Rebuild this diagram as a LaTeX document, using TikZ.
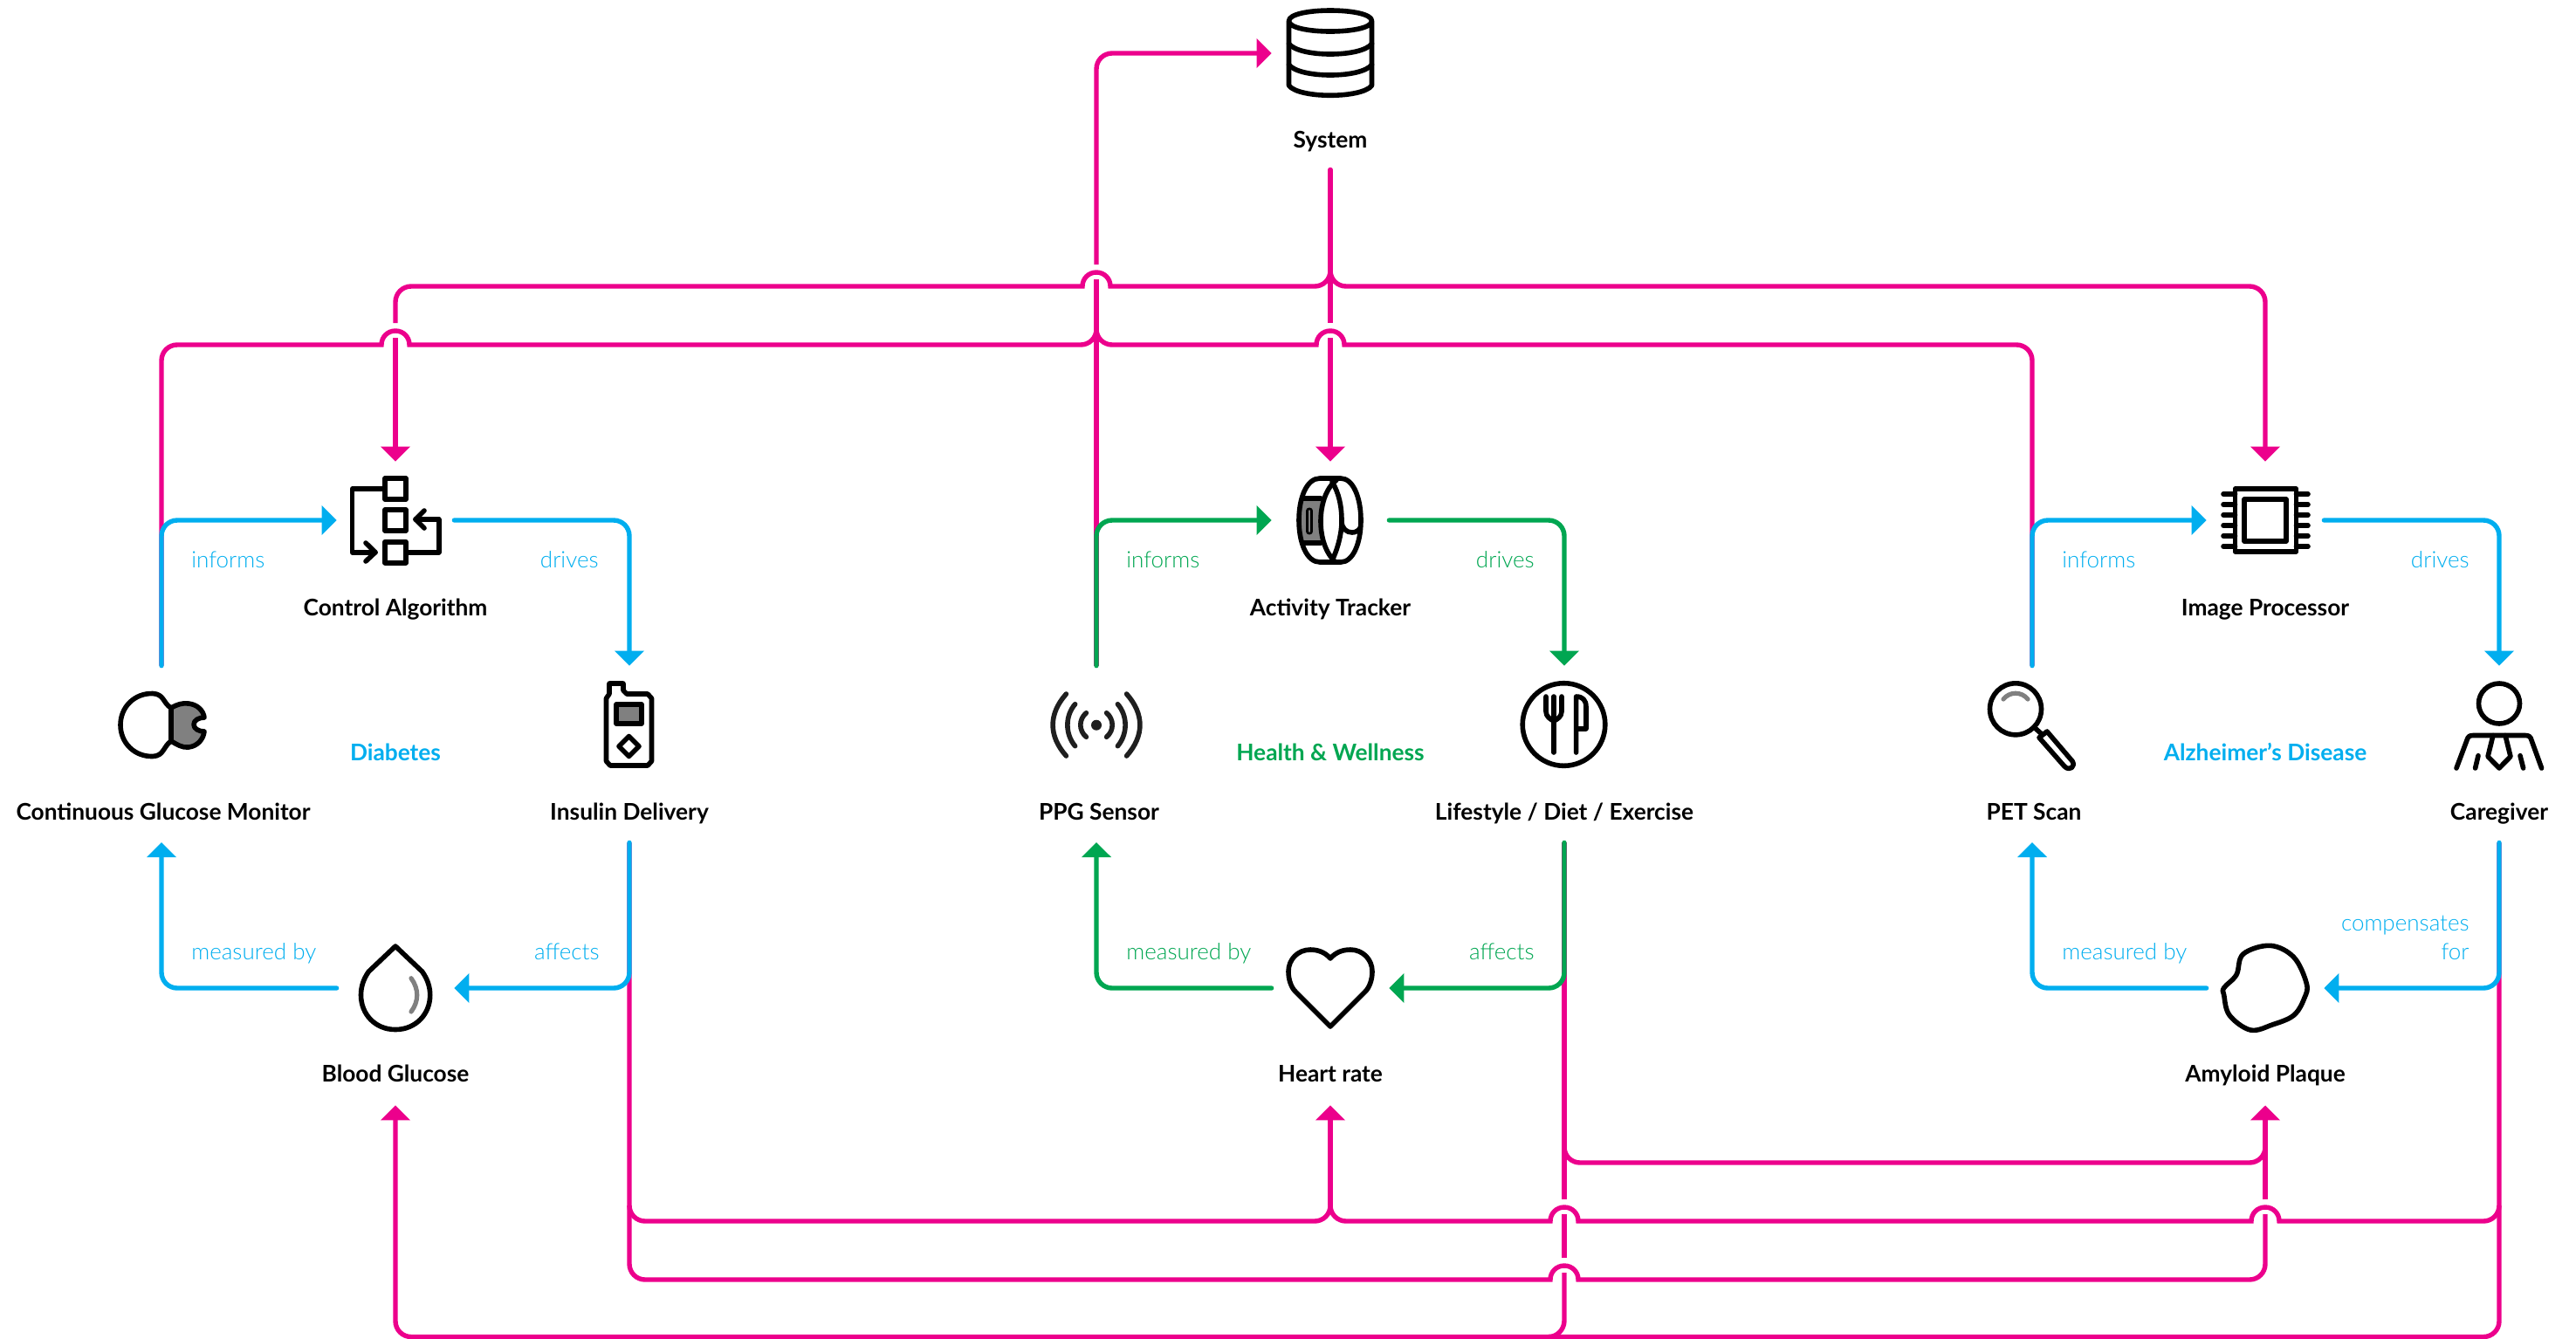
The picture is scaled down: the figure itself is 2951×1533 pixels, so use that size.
\documentclass[tikz,border=0pt]{standalone}
\usepackage{fontspec}
\setmainfont{Lato}
\newfontfamily\lightfont{Lato Light}
\usetikzlibrary{arrows.meta}
\definecolor{pk}{HTML}{EC008C}
\definecolor{bl}{HTML}{00AEEF}
\definecolor{gr}{HTML}{00A651}
\definecolor{gy}{HTML}{808080}
\newcommand\jumpR[2]{-- ({#1-16},#2) .. controls ({#1-16},{#2-9}) and ({#1-9},{#2-16}) .. (#1,{#2-16}) .. controls ({#1+9},{#2-16}) and ({#1+16},{#2-9}) .. ({#1+16},#2)}
\newcommand\jumpL[2]{-- ({#1+16},#2) .. controls ({#1+16},{#2-9}) and ({#1+9},{#2-16}) .. (#1,{#2-16}) .. controls ({#1-9},{#2-16}) and ({#1-16},{#2-9}) .. ({#1-16},#2)}
\tikzset{
 iconbox/.style={minimum size=67pt,inner sep=0pt,draw=none,fill=none},
 namelabel/.style={inner sep=0pt,text height=9pt,text depth=0pt,font=\fontsize{13.15}{16}\selectfont\bfseries},
 edgetext/.style={inner sep=0pt,font=\fontsize{13}{16}\selectfont\lightfont},
 grouptext/.style={inner sep=0pt,anchor=base,font=\fontsize{13.15}{16}\selectfont\bfseries},
 ico/.style={draw=black,line width=2.8pt,line cap=round,line join=round},
 ticon/.style={draw=black,line width=2.8pt,line cap=round,line join=round,fill=gy},
 gyline/.style={draw=gy,line width=2.6pt,line cap=round},
 tip/.style={-{Triangle[length=8.5pt,width=16.5pt]}},
 pkl/.style={draw=pk,line width=2.7pt},
 loopb/.style={draw=bl,line width=2.7pt,rounded corners=9pt,line cap=round},
 loopg/.style={draw=gr,line width=2.7pt,rounded corners=9pt,line cap=round},
}
\begin{document}
\begin{tikzpicture}[x=0.5pt,y=-0.5pt]
\useasboundingbox (0,0) rectangle (2951,1533);
% icon boxes
\node[iconbox] (sys) at (1524,61) {};
\node[iconbox] (ctrl) at (453,596) {};
\node[iconbox] (act) at (1524,596) {};
\node[iconbox] (img) at (2595,596) {};
\node[iconbox] (cgm) at (185,830) {};
\node[iconbox] (ins) at (721,830) {};
\node[iconbox] (ppg) at (1256,830) {};
\node[iconbox] (life) at (1792,830) {};
\node[iconbox] (pet) at (2328,830) {};
\node[iconbox] (care) at (2863,830) {};
\node[iconbox] (bg) at (453,1132) {};
\node[iconbox] (hr) at (1524,1132) {};
\node[iconbox] (amy) at (2595,1132) {};
% name labels
\node[namelabel,minimum height=34pt] (lsys) at (1524,160) {System};
\node[namelabel] (lctrl) at (453,696) {Control Algorithm};
\node[namelabel] (lact) at (1524,696) {Activity Tracker};
\node[namelabel] (limg) at (2595,696) {Image Processor};
\node[namelabel] (lcgm) at (187,930) {Continuous Glucose Monitor};
\node[namelabel,minimum height=35pt] (lins) at (721,930) {Insulin Delivery};
\node[namelabel] (lppg) at (1259,930) {PPG Sensor};
\node[namelabel,minimum height=35pt] (llife) at (1792,930) {Lifestyle / Diet / Exercise};
\node[namelabel] (lpet) at (2330,930) {PET Scan};
\node[namelabel,minimum height=35pt] (lcare) at (2863,930) {Caregiver};
\node[namelabel,minimum height=36pt] (lbg) at (453,1230) {Blood Glucose};
\node[namelabel,minimum height=36pt] (lhr) at (1524,1230) {Heart rate};
\node[namelabel,minimum height=36pt] (lamy) at (2595,1230) {Amyloid Plaque};
% group labels
\node[grouptext,text=bl] (gd) at (453,871.5) {Diabetes};
\node[grouptext,text=gr] (gh) at (1524,871.5) {Health \& Wellness};
\node[grouptext,text=bl] (ga) at (2595,871.5) {Alzheimer's Disease};
% edge labels
\node[edgetext,text=bl,anchor=base west] (e1) at (219,650) {informs};
\node[edgetext,text=bl,anchor=base east] (e2) at (686,650) {drives};
\node[edgetext,text=bl,anchor=base east] (e3) at (687,1099.5) {affects};
\node[edgetext,text=bl,anchor=base west] (e4) at (219,1099.5) {measured by};
\node[edgetext,text=gr,anchor=base west] (e5) at (1290,650) {informs};
\node[edgetext,text=gr,anchor=base east] (e6) at (1758,650) {drives};
\node[edgetext,text=gr,anchor=base east] (e7) at (1758,1099.5) {affects};
\node[edgetext,text=gr,anchor=base west] (e8) at (1290,1099.5) {measured by};
\node[edgetext,text=bl,anchor=base west] (e9) at (2362,650) {informs};
\node[edgetext,text=bl,anchor=base east] (e10) at (2829,650) {drives};
\node[edgetext,text=bl,anchor=base east] (e11) at (2829,1066.5) {compensates};
\node[edgetext,text=bl,anchor=base east] (e12) at (2829,1099.5) {for};
\node[edgetext,text=bl,anchor=base west] (e13) at (2362,1099.5) {measured by};
% free ends of the connectors, at the line jumps and junctions
\coordinate (cgmin) at (185,965);
\coordinate (ppgin) at (1256,965);
\coordinate (petin) at (2328,965);
\coordinate (sysgap) at (1524,370);
\coordinate (sysres) at (1524,387);
\coordinate (cagap) at (453,370);
\coordinate (cares) at (453,387);
\coordinate (ppggap) at (1256,320);
\coordinate (ppgres) at (1256,303);
\coordinate (jtop) at (1524,310);
\coordinate (jmid) at (1256,377);
\coordinate (jhr) at (1524,1381);
\coordinate (amygap) at (2595,1374);
\coordinate (amyres) at (2595,1391);
\coordinate (lifegapa) at (1792,1374);
\coordinate (liferesa) at (1792,1391);
\coordinate (lifegapb) at (1792,1441);
\coordinate (liferesb) at (1792,1458);
% magenta connectors
\draw[pkl,line cap=round] (lsys.south) -- (1524,340);
\draw[pkl] (1524,340) -- (sysgap);
\draw[pkl,tip] (sysres) -- (act.north);
\draw[pkl] (jtop) .. controls (1524,320) and (1516,328) .. (1506,328) \jumpL{1256}{328} -- (471,328) .. controls (461,328) and (453,336) .. (453,346) -- (cagap);
\draw[pkl,tip] (cares) -- (ctrl.north);
\draw[pkl,tip] (jtop) .. controls (1524,320) and (1532,328) .. (1542,328) -- (2577,328) .. controls (2587,328) and (2595,336) .. (2595,346) -- (img.north);
\draw[pkl] (jmid) .. controls (1256,387) and (1248,395) .. (1238,395) \jumpL{453}{395} -- (203,395) .. controls (193,395) and (185,403) .. (185,413) -- (cgm.north);
\draw[pkl] (jmid) .. controls (1256,387) and (1264,395) .. (1274,395) \jumpR{1524}{395} -- (2310,395) .. controls (2320,395) and (2328,403) .. (2328,413) -- (pet.north);
\draw[pkl] (ppg.north) -- (ppggap);
\draw[pkl,tip] (ppgres) -- (1256,79) .. controls (1256,69) and (1264,61) .. (1274,61) -- (sys.west);
\draw[pkl] (lins.south) -- (721,1448) .. controls (721,1458) and (729,1466) .. (739,1466) \jumpR{1792}{1466} -- (2577,1466) .. controls (2587,1466) and (2595,1458) .. (2595,1448) -- (amyres);
\draw[pkl] (721,1381) .. controls (721,1391) and (729,1399) .. (739,1399) -- (1506,1399) .. controls (1516,1399) and (1524,1391) .. (jhr);
\draw[pkl] (2863,1381) .. controls (2863,1391) and (2855,1399) .. (2845,1399) \jumpL{2595}{1399} \jumpL{1792}{1399} -- (1542,1399) .. controls (1532,1399) and (1524,1391) .. (jhr);
\draw[pkl,tip] (jhr) -- (lhr.south);
\draw[pkl,tip] (lcare.south) -- (2863,1513.5) .. controls (2863,1523.5) and (2855,1531.5) .. (2845,1531.5) -- (471,1531.5) .. controls (461,1531.5) and (453,1523.5) .. (453,1513.5) -- (lbg.south);
\draw[pkl] (llife.south) -- (lifegapa);
\draw[pkl] (liferesa) -- (lifegapb);
\draw[pkl] (liferesb) -- (1792,1513) .. controls (1792,1523) and (1784,1531.5) .. (1774,1531.5);
\draw[pkl] (1792,1314) .. controls (1792,1324) and (1800,1332) .. (1810,1332) -- (2577,1332) .. controls (2587,1332) and (2595,1324) .. (2595,1314);
\draw[pkl,tip] (amygap) -- (lamy.south);
% coloured loops
\draw[loopb,tip] (cgm.north) |- (ctrl.west);
\draw[loopb,tip] (ctrl.east) -| (ins.north);
\draw[loopb,tip] (lins.south) |- (bg.east);
\draw[loopb,tip] (bg.west) -| (cgmin);
\draw[loopg,tip] (ppg.north) |- (act.west);
\draw[loopg,tip] (act.east) -| (life.north);
\draw[loopg,tip] (llife.south) |- (hr.east);
\draw[loopg,tip] (hr.west) -| (ppgin);
\draw[loopb,tip] (pet.north) |- (img.west);
\draw[loopb,tip] (img.east) -| (care.north);
\draw[loopb,tip] (lcare.south) |- (amy.east);
\draw[loopb,tip] (amy.west) -| (petin);
% System icon
\draw[ico] (1476.5,24) .. controls (1476.5,8) and (1571.5,8) .. (1571.5,24) .. controls (1571.5,40) and (1476.5,40) .. (1476.5,24) -- (1476.5,98) .. controls (1488,113) and (1560,113) .. (1571.5,98) -- (1571.5,24);
\draw[ico] (1476.5,50) .. controls (1488,66) and (1560,66) .. (1571.5,50);
\draw[ico] (1476.5,74) .. controls (1488,90) and (1560,90) .. (1571.5,74);
% Control Algorithm icon
\draw[ico,line cap=butt] (441,548) rectangle (465,572);
\draw[ico,line cap=butt] (441,584) rectangle (465,608);
\draw[ico,line cap=butt] (441,620.7) rectangle (465,644.7);
\draw[ico] (441,560) -- (403.6,560) -- (403.6,632.7) -- (430,632.7);
\draw[ico] (419,622) -- (430,632.7) -- (419,643);
\draw[ico] (465,632.7) -- (502.7,632.7) -- (502.7,595) -- (476,595);
\draw[ico] (486,585) -- (476,595) -- (486,605);
% Insulin pump icon
\draw[ico] (694.5,872) -- (694.5,800) -- (698,795) -- (698,783) -- (714,783) -- (714,791) -- (718,795) -- (742,795) -- (746.5,800) -- (746.5,872) -- (742,877) -- (699,877) -- cycle;
\draw[ticon] (706,807) rectangle (735,829);
\draw[ico] (720.5,843.5) -- (732,855) -- (720.5,866.5) -- (709,855) -- cycle;
% CGM icon
\draw[ticon] (196,811) .. controls (203,807) and (209,805) .. (216,806) .. controls (226,807) and (233,814) .. (234,822) .. controls (228,822) and (222,825) .. (222,830) .. controls (222,835) and (228,838) .. (234,838) .. controls (233,847) and (226,855) .. (216,856) .. controls (209,857) and (203,853) .. (196,849) -- cycle;
\draw[ico] (196,811) .. controls (187,806) and (188,795) .. (175,794.5) .. controls (154,794) and (138,810) .. (138,830.5) .. controls (138,851) and (154,867) .. (175,866.5) .. controls (188,866) and (187,855) .. (196,849);
% Drop icon
\draw[ico] (453,1084) -- (422.4,1113) .. controls (416,1122) and (413.5,1131) .. (413.5,1140) .. controls (413.5,1162) and (430,1179.5) .. (453,1179.5) .. controls (476,1179.5) and (492.7,1162) .. (492.7,1140) .. controls (492.7,1131) and (490,1122) .. (483.6,1113) -- cycle;
\draw[gyline] (471,1120.7) .. controls (480,1133) and (480,1147) .. (471,1159);
% Activity tracker icon
\path[fill=gy] (1492,571) .. controls (1489,580) and (1488,590) .. (1488,596) .. controls (1488,604) and (1489,614) .. (1492,622) -- (1513,622) -- (1513,571) -- cycle;
\draw[ico] (1512,548) .. controls (1497,548) and (1488,570) .. (1488,596) .. controls (1488,622) and (1497,644) .. (1512,644) -- (1536,644) .. controls (1550,644) and (1559,622) .. (1559,596) .. controls (1559,570) and (1550,548) .. (1536,548) -- cycle;
\draw[ico] (1531,550) .. controls (1518,560) and (1513,580) .. (1513,597) .. controls (1513,615) and (1518,633) .. (1530,644);
\draw[ico] (1526,552) .. controls (1534,565) and (1537,580) .. (1537,597) .. controls (1537,612) and (1532,630) .. (1526,642);
\draw[ico] (1537,597) .. controls (1537,606) and (1543,610) .. (1549,610) .. controls (1553,610) and (1556,608) .. (1558,605);
\draw[ico] (1492,571) -- (1513,571);
\draw[ico] (1492,622) -- (1513,622);
\draw[draw=black,line width=1.3pt,rounded corners=1pt] (1497.5,583) rectangle (1502.5,611);
% PPG icon
\foreach \sg in {-1,1}{
 \draw[ico,draw=black!88] ({1256+\sg*34.6},795) .. controls ({1256+\sg*55},818) and ({1256+\sg*55},843) .. ({1256+\sg*34.6},866);
 \draw[ico,draw=black!88] ({1256+\sg*24.4},806.7) .. controls ({1256+\sg*36},820) and ({1256+\sg*36},841) .. ({1256+\sg*24.4},854.7);
 \draw[ico,draw=black!88] ({1256+\sg*11.6},816.7) .. controls ({1256+\sg*20.4},824) and ({1256+\sg*20.4},837) .. ({1256+\sg*11.6},844.3);
}
\fill[black!88] (1256,830.7) circle[radius=6];
% Lifestyle icon
\draw[ico] (1791.5,830) circle[radius=47.3];
\draw[ico] (1771,798) -- (1771,815) .. controls (1771,821) and (1776,824) .. (1780,826) .. controls (1784,824) and (1789,821) .. (1789,815) -- (1789,798);
\draw[ico] (1780,798) -- (1780,862);
\draw[ico] (1805.6,862) -- (1805.6,798) .. controls (1813,798) and (1817,802) .. (1817,810) -- (1817,835) -- (1805.6,835);
% Image processor icon
\draw[ico] (2560.5,560) rectangle (2630.5,632);
\draw[ico] (2571,572) rectangle (2619,620);
\foreach \py in {566,578,590,602,614,626}{
 \draw[ico] (2547,\py) -- (2560.5,\py);
 \draw[ico] (2630.5,\py) -- (2644,\py);
}
% PET scan icon
\draw[ico] (2309,812.3) circle[radius=29.5];
\draw[gyline] (2295,801) .. controls (2302,792) and (2316,792) .. (2323,801);
\draw[ico] (2330,833) -- (2339,841);
\draw[ico] (2336,845) -- (2345,838) -- (2374,872) .. controls (2378,878) and (2371,884) .. (2365,878) -- cycle;
% Caregiver icon
\draw[ico] (2863,806) ellipse[x radius=23.5,y radius=23];
\draw[ico] (2814,880) -- (2826,848) .. controls (2827,844) and (2829,842.5) .. (2833,842.5) -- (2893,842.5) .. controls (2897,842.5) and (2899,844) .. (2900,848) -- (2911.6,880);
\draw[ico] (2856,842.5) -- (2850,866.7) -- (2863,880) -- (2876,866.7) -- (2870,842.5);
\draw[ico] (2839,865.7) -- (2835.6,880);
\draw[ico] (2887,865.7) -- (2890.6,880);
% Amyloid icon
\draw[ico] plot[smooth cycle,tension=0.6] coordinates {(2600.8,1083.3) (2627.8,1096.7) (2642.3,1126.7) (2640,1143) (2627.8,1163) (2603,1174) (2578,1180) (2554,1163) (2547.7,1140) (2547.7,1131.7) (2562,1116.7) (2569.7,1093)};
% Heart icon
\draw[ico] (1524,1176) -- (1484,1136) .. controls (1479,1131) and (1476,1122) .. (1476,1113) .. controls (1476,1099) and (1487,1088) .. (1501,1088) .. controls (1510,1088) and (1518,1091) .. (1524,1098) .. controls (1530,1091) and (1538,1088) .. (1547,1088) .. controls (1561,1088) and (1572,1099) .. (1572,1113) .. controls (1572,1122) and (1569,1131) .. (1564,1136) -- cycle;
\end{tikzpicture}
\end{document}
